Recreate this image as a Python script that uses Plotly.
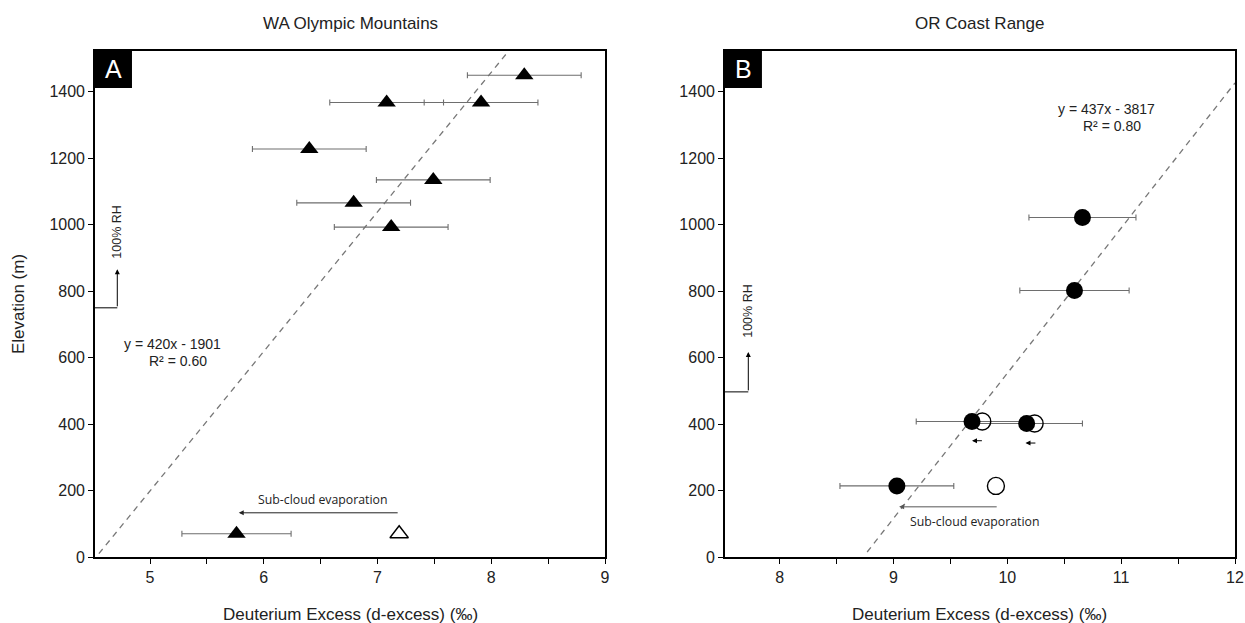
import plotly.graph_objects as go

# ---------------- data ----------------
# Panel A: WA Olympic Mountains
a_x = [8.29, 7.08, 7.91, 6.40, 7.49, 6.79, 7.12, 5.76]
a_y = [1450, 1368, 1368, 1228, 1135, 1066, 993, 70]
a_err = [0.50, 0.50, 0.50, 0.50, 0.50, 0.50, 0.50, 0.48]
a_open_x = [7.19]
a_open_y = [70]
a_slope, a_intercept = 420, -1901
a_fit_y = [10, 1523]

# Panel B: OR Coast Range
b_x = [10.66, 10.59, 9.69, 10.17, 9.03]
b_y = [1022, 802, 408, 402, 214]
b_err = [0.47, 0.48, 0.49, 0.49, 0.50]
b_open_x = [9.78, 10.24, 9.90]
b_open_y = [408, 402, 214]
b_slope, b_intercept = 437, -3817
b_fit_x_end = 12.0
b_fit_y_start = 15

# annotation anchor values
a_rh_y, a_rh_x, a_rh_top = 750, 4.712, 866
b_rh_y, b_rh_x, b_rh_top = 497, 7.725, 617
a_evap = dict(x0=7.19, x1=5.78, y=133)
b_evap = dict(x0=9.92, x1=9.05, y=151)
b_small_arrows = [(9.79, 9.69, 350), (10.26, 10.16, 343)]

x_ticks_a = [5, 6, 7, 8, 9]
x_ticks_b = [8, 9, 10, 11, 12]
y_ticks = [0, 200, 400, 600, 800, 1000, 1200, 1400]

FONT = "Arial, Liberation Sans, sans-serif"
SMALLFONT = "Open Sans, sans-serif"
ERRC = "#6e6e6e"

fig = go.Figure()

def err(arr):
    return dict(type="data", array=arr, visible=True, color=ERRC, thickness=1.1, width=3)

# Panel A
a_fit_x = [(v - a_intercept) / a_slope for v in a_fit_y]
fig.add_trace(go.Scatter(x=a_fit_x, y=a_fit_y, mode="lines", xaxis="x", yaxis="y",
                         line=dict(color="#777777", width=1.3, dash="6px,5px"), showlegend=False))
fig.add_trace(go.Scatter(x=a_x, y=a_y, mode="markers", xaxis="x", yaxis="y", error_x=err(a_err),
                         marker=dict(symbol="triangle-up", size=16, color="black"), showlegend=False))
fig.add_trace(go.Scatter(x=a_open_x, y=a_open_y, mode="markers", xaxis="x", yaxis="y",
                         marker=dict(symbol="triangle-up-open", size=16, color="black", line=dict(width=1.4)),
                         showlegend=False))

# Panel B
b_fit_x = [(b_fit_y_start - b_intercept) / b_slope, b_fit_x_end]
b_fit_yv = [b_slope * v + b_intercept for v in b_fit_x]
fig.add_trace(go.Scatter(x=b_fit_x, y=b_fit_yv, mode="lines", xaxis="x2", yaxis="y2",
                         line=dict(color="#777777", width=1.3, dash="6px,5px"), showlegend=False))
fig.add_trace(go.Scatter(x=b_x, y=b_y, mode="markers", xaxis="x2", yaxis="y2", error_x=err(b_err),
                         marker=dict(symbol="circle", size=17, color="black"), showlegend=False))
fig.add_trace(go.Scatter(x=b_open_x, y=b_open_y, mode="markers", xaxis="x2", yaxis="y2",
                         marker=dict(symbol="circle-open", size=17, color="black", line=dict(width=1.4)),
                         showlegend=False))

ax_common = dict(showline=True, mirror=True, linecolor="black", linewidth=1.6, ticks="outside",
                 ticklen=5, tickwidth=1.2, tickcolor="black", showgrid=False, zeroline=False,
                 automargin=False, tickfont=dict(family=FONT, size=16, color="#222"))

XT = "Deuterium Excess (d-excess) (‰)"
fig.update_layout(
    width=1245, height=623,
    margin=dict(l=95, r=10, t=51, b=66),
    plot_bgcolor="white", paper_bgcolor="white",
    font=dict(family=FONT, color="#222"),
    xaxis=dict(domain=[0, 0.4474], range=[4.516, 9.0], tickvals=x_ticks_a,
               minor=dict(dtick=0.5, ticks="outside", ticklen=5, tickcolor="black"),
               anchor="y", **ax_common),
    yaxis=dict(domain=[0, 1], range=[0, 1523], tickvals=y_ticks, anchor="x", **ax_common),
    xaxis2=dict(domain=[0.5526, 1.0], range=[7.52, 12.0], tickvals=x_ticks_b,
                minor=dict(dtick=0.5, ticks="outside", ticklen=5, tickcolor="black"),
                anchor="y2", **ax_common),
    yaxis2=dict(domain=[0, 1], range=[0, 1523], tickvals=y_ticks, anchor="x2", **ax_common),
)

shapes = []
annots = []

def note(**kw):
    kw.setdefault("xanchor", "center")
    kw.setdefault("yanchor", "middle")
    kw.setdefault("showarrow", False)
    annots.append(kw)

# axis titles
TF = dict(family=FONT, size=17, color="#222")
note(xref="paper", yref="paper", x=0.2237, y=-0.1146, text=XT, font=TF)
note(xref="paper", yref="paper", x=0.7763, y=-0.1146, text=XT, font=TF)
note(xref="paper", yref="paper", x=-0.0675, y=0.5, text="Elevation (m)", textangle=-90, font=TF)

# panel label boxes
for xr, yr, lab in [("x domain", "y domain", "A"), ("x2 domain", "y2 domain", "B")]:
    shapes.append(dict(type="rect", xref=xr, yref=yr, x0=0, x1=0.0725, y0=0.927, y1=1,
                       fillcolor="black", line=dict(width=0)))
    note(xref=xr, yref=yr, x=0.036, y=0.9635, text=lab, font=dict(family=FONT, size=25, color="white"))

# titles
note(xref="paper", yref="paper", x=0.2237, y=1.0534, text="WA Olympic Mountains", font=TF)
note(xref="paper", yref="paper", x=0.7763, y=1.0534, text="OR Coast Range", font=TF)

# equations
EQF = dict(family=FONT, size=14, color="#222")
note(x=5.20, y=640, xref="x", yref="y", text="y = 420x - 1901", font=EQF)
note(x=5.25, y=590, xref="x", yref="y", text="R² = 0.60", font=EQF)
note(x=10.87, y=1347, xref="x2", yref="y2", text="y = 437x - 3817", font=EQF)
note(x=10.92, y=1297, xref="x2", yref="y2", text="R² = 0.80", font=EQF)

ARR = dict(showarrow=True, arrowhead=2, arrowsize=1, arrowwidth=1, text="")

# 100% RH indicators
shapes.append(dict(type="line", xref="x", yref="y", x0=4.516, x1=a_rh_x, y0=a_rh_y, y1=a_rh_y,
                   line=dict(color="black", width=1)))
annots.append(dict(xref="x", yref="y", axref="x", ayref="y", x=a_rh_x, y=a_rh_top, ax=a_rh_x, ay=a_rh_y,
                   arrowcolor="black", **ARR))
note(xref="x", yref="y", x=a_rh_x, y=980, text="100% RH", textangle=-90,
     font=dict(family=FONT, size=12.5, color="#222"))
shapes.append(dict(type="line", xref="x2", yref="y2", x0=7.52, x1=b_rh_x, y0=b_rh_y, y1=b_rh_y,
                   line=dict(color="black", width=1)))
annots.append(dict(xref="x2", yref="y2", axref="x2", ayref="y2", x=b_rh_x, y=b_rh_top, ax=b_rh_x, ay=b_rh_y,
                   arrowcolor="black", **ARR))
note(xref="x2", yref="y2", x=b_rh_x, y=742, text="100% RH", textangle=-90,
     font=dict(family=FONT, size=12.5, color="#222"))

# sub-cloud evaporation arrows
annots.append(dict(xref="x", yref="y", axref="x", ayref="y", x=a_evap["x1"], y=a_evap["y"],
                   ax=a_evap["x0"], ay=a_evap["y"], arrowcolor="#222", **ARR))
note(xref="x", yref="y", x=6.52, y=174, text="Sub-cloud evaporation",
     font=dict(family=SMALLFONT, size=12.3, color="#222"))
annots.append(dict(xref="x2", yref="y2", axref="x2", ayref="y2", x=b_evap["x1"], y=b_evap["y"],
                   ax=b_evap["x0"], ay=b_evap["y"], arrowcolor="#555", **ARR))
note(xref="x2", yref="y2", x=9.72, y=107, text="Sub-cloud evaporation",
     font=dict(family=SMALLFONT, size=12.3, color="#222"))
for x0, x1, yv in b_small_arrows:
    annots.append(dict(xref="x2", yref="y2", axref="x2", ayref="y2", x=x1, y=yv, ax=x0, ay=yv,
                       arrowcolor="black", **ARR))

fig.update_layout(shapes=shapes, annotations=annots)
fig.write_html("out.html")
